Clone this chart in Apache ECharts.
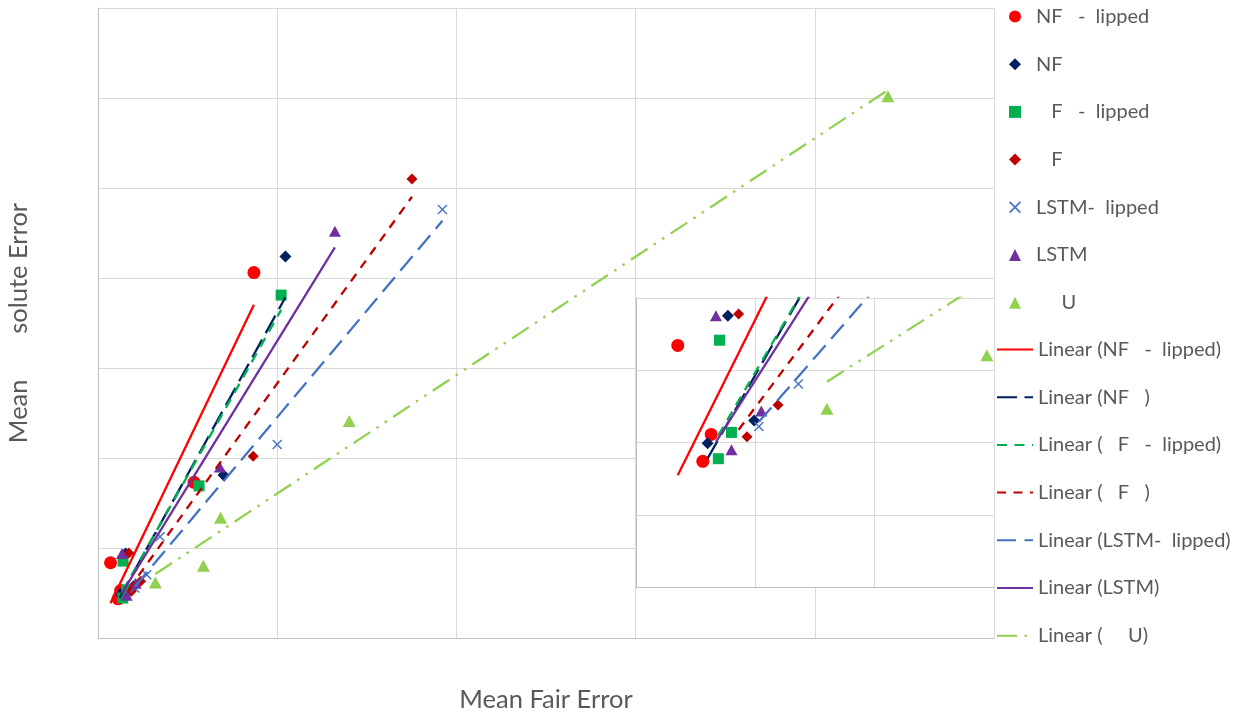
<!DOCTYPE html>
<html><head><meta charset="utf-8">
<script src="https://cdn.jsdelivr.net/npm/echarts@6/dist/echarts.min.js"></script>
<style>html,body{margin:0;padding:0;background:#fff}#c{width:1242px;height:714px}</style>
</head><body><div id="c"></div>
<script>
// Series names (as shown in the legend)
const seriesNames = ['NF   -  lipped', 'NF', '   F   -  lipped', '   F', 'LSTM-  lipped', 'LSTM', '     U'];
const trendNames = ['Linear (NF   -  lipped)', 'Linear (NF   )', 'Linear (   F   -  lipped)', 'Linear (   F   )', 'Linear (LSTM-  lipped)', 'Linear (LSTM)', 'Linear (     U)'];

// [Mean Fair Error, Mean Absolute Error] pairs
const nfClipped   = [[0.0435, 0.406], [0.0268, 0.173], [0.0035, 0.0836], [0.0063, 0.0528], [0.0056, 0.0435]];
const nf          = [[0.0523, 0.424], [0.0350, 0.181], [0.0077, 0.0939], [0.0099, 0.0576], [0.0060, 0.0497]];
const fClipped    = [[0.0511, 0.381], [0.0282, 0.169], [0.0070, 0.0854], [0.0080, 0.0535], [0.0069, 0.0444]];
const f           = [[0.0876, 0.510], [0.0433, 0.202], [0.0086, 0.0945], [0.0119, 0.0630], [0.0093, 0.0520]];
const lstmClipped = [[0.0961, 0.476], [0.0500, 0.215], [0.0173, 0.1126], [0.0136, 0.0702], [0.0103, 0.0555]];
const lstm        = [[0.0661, 0.452], [0.0340, 0.190], [0.0067, 0.0939], [0.0105, 0.0609], [0.0080, 0.0475]];
const u           = [[0.2204, 0.602], [0.0701, 0.241], [0.0342, 0.1337], [0.0160, 0.0617], [0.0294, 0.0802]];
const allData = [nfClipped, nf, fClipped, f, lstmClipped, lstm, u];

// Styles
const colors = ['#FF0000', '#002060', '#00B050', '#C00000', '#4472C4', '#7030A0', '#92D050'];
const xPath = 'path://M1,0L5,4L9,0L10,1L6,5L10,9L9,10L5,6L1,10L0,9L4,5L0,1Z';
const symbols = ['circle', 'diamond', 'rect', 'diamond', xPath, 'triangle', 'triangle'];
const symbolSizes = [13, 12, 11, 11, 10, [12, 11], [13, 12]];
const dashes = ['solid', [20, 7.5], [10, 7.5], [9, 7.5], [19, 8.5], 'solid', [20, 7.5, 2.5, 7.5, 2.5, 7.5]];

function linFit(pts) {
  const n = pts.length;
  let sx = 0, sy = 0, sxx = 0, sxy = 0;
  pts.forEach(p => { sx += p[0]; sy += p[1]; sxx += p[0] * p[0]; sxy += p[0] * p[1]; });
  const b = (n * sxy - sx * sy) / (n * sxx - sx * sx);
  const a = (sy - b * sx) / n;
  const xs = pts.map(p => p[0]);
  const x0 = Math.min.apply(null, xs), x1 = Math.max.apply(null, xs);
  return [[x0, a + b * x0], [x1, a + b * x1]];
}

const font = 'Lato, "Open Sans", sans-serif';
const gridLine = { show: true, lineStyle: { color: '#D9D9D9', width: 1 } };
const axLine = { show: true, onZero: false, lineStyle: { color: '#BFBFBF', width: 1 } };

const series = [];
[0, 1].forEach(g => {
  allData.forEach((d, i) => {
    series.push({
      type: 'scatter', name: seriesNames[i], xAxisIndex: g, yAxisIndex: g,
      data: d, symbol: symbols[i], symbolSize: symbolSizes[i], symbolKeepAspect: true,
      itemStyle: { color: colors[i], opacity: 1 }, z: g ? 7 : 2, silent: true
    });
  });
  allData.forEach((d, i) => {
    series.push({
      type: 'line', name: trendNames[i], xAxisIndex: g, yAxisIndex: g,
      data: linFit(d), symbol: 'none', silent: true,
      lineStyle: { color: colors[i], width: 2.3, type: dashes[i] },
      itemStyle: { color: colors[i] }, z: g ? 8 : 3
    });
  });
});

const chart = echarts.init(document.getElementById('c'), null, { renderer: 'canvas' });
chart.setOption({
  animation: false,
  backgroundColor: '#fff',
  grid: [
    { left: 98, top: 8, right: 248, bottom: 76, containLabel: false, outerBoundsMode: 'none' },
    { left: 636, top: 298, width: 358, height: 289, show: true, backgroundColor: '#fff', borderWidth: 0, z: 5, outerBoundsMode: 'none' }
  ],
  xAxis: [
    { type: 'value', gridIndex: 0, min: 0, max: 0.25, interval: 0.05,
      name: 'Mean Fair Error', nameLocation: 'middle', nameGap: 49,
      nameTextStyle: { fontFamily: font, fontSize: 25.5, color: '#595959' },
      axisLine: axLine, axisTick: { show: false }, axisLabel: { show: false }, splitLine: gridLine },
    { type: 'value', gridIndex: 1, min: 0, max: 0.03, interval: 0.01, z: 6,
      axisLine: axLine, axisTick: { show: false }, axisLabel: { show: false }, splitLine: gridLine }
  ],
  yAxis: [
    { type: 'value', gridIndex: 0, min: 0, max: 0.7, interval: 0.1,
      name: 'Mean       solute Error', nameLocation: 'middle', nameGap: 66,
      nameTextStyle: { fontFamily: font, fontSize: 25.5, color: '#595959' },
      axisLine: axLine, axisTick: { show: false }, axisLabel: { show: false }, splitLine: gridLine },
    { type: 'value', gridIndex: 1, min: 0, max: 0.1, interval: 0.025, z: 6,
      axisLine: axLine, axisTick: { show: false }, axisLabel: { show: false }, splitLine: gridLine }
  ],
  legend: [
    {
      orient: 'vertical', left: 1009, top: 4.5, padding: 0,
      itemWidth: 12, itemHeight: 12, itemGap: 23.7, selectedMode: false, symbolKeepAspect: true,
      textStyle: { fontFamily: font, fontSize: 20, color: '#595959', lineHeight: 24, padding: [0, 0, 0, 10] },
      data: seriesNames
    },
    {
      orient: 'vertical', left: 996, top: 337.5, padding: 0,
      itemWidth: 36, itemHeight: 12, itemGap: 23.7, selectedMode: false,
      textStyle: { fontFamily: font, fontSize: 20, color: '#595959', lineHeight: 24 },
      data: trendNames.map(n => ({ name: n, itemStyle: { opacity: 0 } }))
    }
  ],
  series: series
});
</script></body></html>
